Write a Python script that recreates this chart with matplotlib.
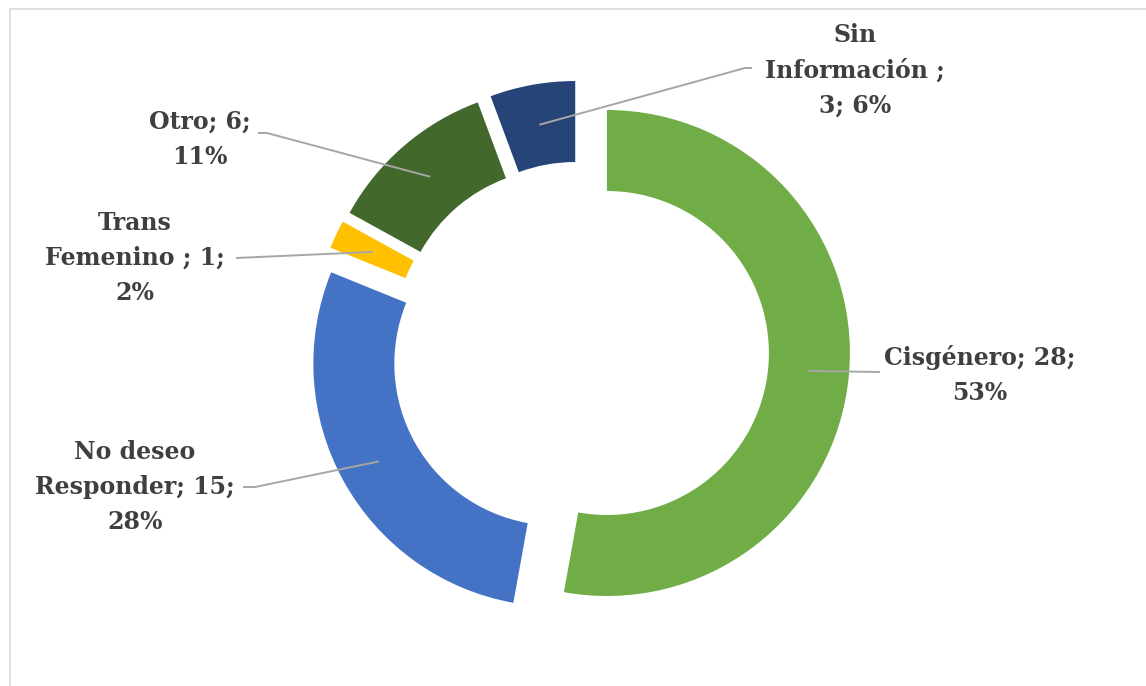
import numpy as np
import matplotlib.pyplot as plt
from matplotlib.patches import Rectangle

categorias = ['Cisgénero', 'No deseo Responder', 'Trans Femenino', 'Otro', 'Sin Información']
valores = [28, 15, 1, 6, 3]
porcentajes = [53, 28, 2, 11, 6]
colores = ['#70AD47', '#4472C4', '#FFC000', '#43682B', '#264478']

# texto de cada etiqueta (igual que Excel: nombre; valor; porcentaje)
etiquetas = ['Cisgénero; 28;\n53%',
             'No deseo\nResponder; 15;\n28%',
             'Trans\nFemenino ; 1;\n2%',
             'Otro; 6;\n11%',
             'Sin\nInformación ;\n3; 6%']
# posición de las etiquetas en píxeles (x, y desde arriba)
pos_etiquetas = [(980, 375), (135, 487), (135, 258), (200, 139), (855, 70)]
# inicio del conector junto a la etiqueta y largo del tramo horizontal
inicio_linea = [(880, 372), (243, 487), (236, 258), (258, 133), (752, 68)]
codo = [0, 12, 0, 9, -7]

W, H = 1146, 686
fig = plt.figure(figsize=(W / 100, H / 100), dpi=100)
ax = fig.add_axes([0, 0, 1, 1])

centro = (580, H - 350.6)
radio = 243
grosor = 81
sep = 27  # en unidades de datos (px)

wedges, _ = ax.pie(valores, colors=colores, startangle=90, counterclock=False,
                   radius=radio, center=centro, explode=[sep] * len(valores),
                   wedgeprops=dict(width=grosor, linewidth=0))

# pie() cambia los límites, se fijan después
ax.set_xlim(0, W)
ax.set_ylim(0, H)
ax.set_aspect('equal')
ax.axis('off')

# marco del área del gráfico
ax.add_patch(Rectangle((10, -20), W + 40, H - 9 + 20, fill=False,
                       edgecolor='#D9D9D9', lw=1.2, clip_on=False))

fuente = dict(family='DejaVu Serif', fontweight='bold', color='#3F3F3F',
              fontsize=17, linespacing=1.58)

for w, texto, (px, py), (lx, ly), c in zip(wedges, etiquetas, pos_etiquetas,
                                           inicio_linea, codo):
    ang = np.deg2rad((w.theta1 + w.theta2) / 2)
    cx, cy = w.center
    rm = radio - grosor / 2
    punto = (cx + rm * np.cos(ang), cy + rm * np.sin(ang))
    ax.text(px, H - py, texto, ha='center', va='center', **fuente)
    xs = [lx, lx + c, punto[0]]
    ys = [H - ly, H - ly, punto[1]]
    ax.plot(xs, ys, color='#A6A6A6', lw=1.4, solid_capstyle='butt')

plt.savefig('out.png', dpi=100)
